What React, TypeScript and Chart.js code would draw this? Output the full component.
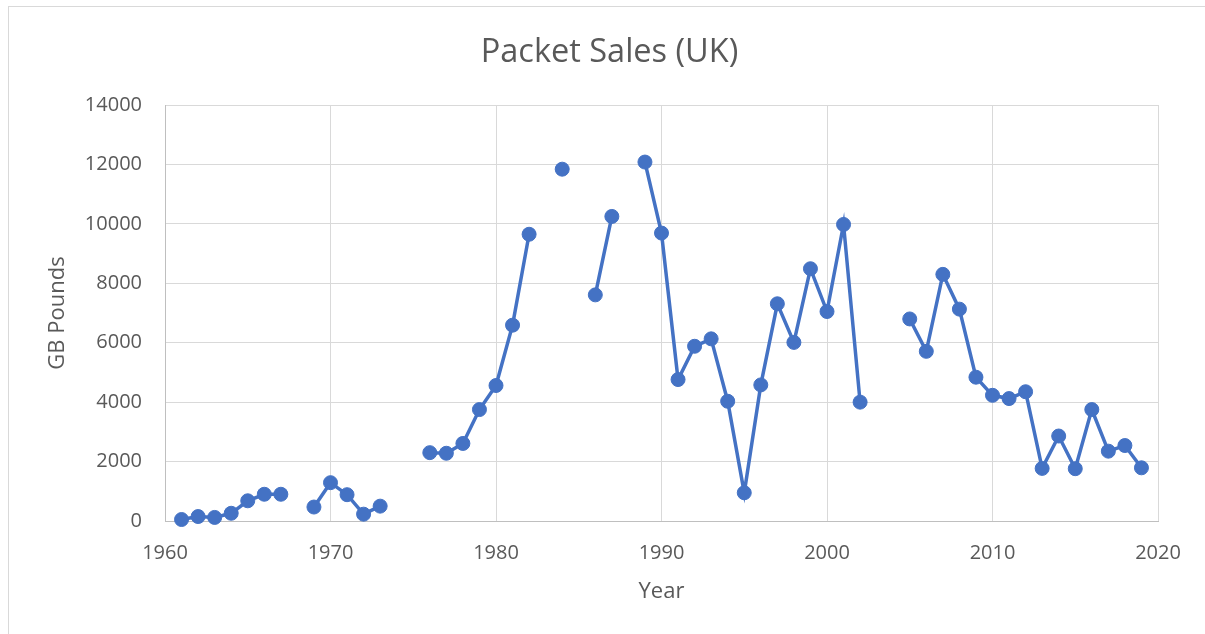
import React, { useEffect, useRef } from "react";
import { Chart, registerables } from "chart.js";

Chart.register(...registerables);

const years: number[] = [
  1961, 1962, 1963, 1964, 1965, 1966, 1967, 1968, 1969, 1970,
  1971, 1972, 1973, 1974, 1975, 1976, 1977, 1978, 1979, 1980,
  1981, 1982, 1983, 1984, 1985, 1986, 1987, 1988, 1989, 1990,
  1991, 1992, 1993, 1994, 1995, 1996, 1997, 1998, 1999, 2000,
  2001, 2002, 2003, 2004, 2005, 2006, 2007, 2008, 2009, 2010,
  2011, 2012, 2013, 2014, 2015, 2016, 2017, 2018, 2019,
];

const sales: (number | null)[] = [
  50, 150, 120, 260, 680, 900, 900, null, 470, 1290,
  885, 230, 500, null, null, 2300, 2280, 2610, 3750, 4560,
  6590, 9650, null, 11840, null, 7610, 10250, null, 12080, 9690,
  4760, 5880, 6130, 4030, 950, 4580, 7310, 6010, 8490, 7050,
  9980, 4000, null, null, 6800, 5710, 8300, 7130, 4840, 4230,
  4120, 4350, 1770, 2860, 1760, 3750, 2350, 2540, 1790,
];

const xTicks: number[] = [1960, 1970, 1980, 1990, 2000, 2010, 2020];
const yTicks: number[] = [0, 2000, 4000, 6000, 8000, 10000, 12000, 14000];

const TEXT = "#595959";
const BLUE = "#4472C4";
const FONT = "'Open Sans', sans-serif";

export default function App() {
  const ref = useRef<HTMLCanvasElement | null>(null);

  useEffect(() => {
    if (!ref.current) return;
    const points = years.map((y, i) => ({ x: y, y: sales[i] }));
    const chart = new Chart(ref.current, {
      type: "line",
      data: {
        datasets: [
          {
            label: "Packet Sales",
            data: points as any,
            borderColor: BLUE,
            backgroundColor: BLUE,
            borderWidth: 3.5,
            pointRadius: 7,
            pointHoverRadius: 7,
            pointBackgroundColor: BLUE,
            pointBorderColor: BLUE,
            pointBorderWidth: 1,
            spanGaps: false,
            tension: 0,
            clip: false as any,
          },
        ],
      },
      options: {
        responsive: false,
        animation: false,
        layout: { padding: { left: 61, right: 47, top: 0, bottom: 0 } },
        plugins: {
          legend: { display: false },
          tooltip: { enabled: false },
          title: {
            display: true,
            text: "Packet Sales (UK)",
            color: TEXT,
            font: { family: FONT, size: 32.5, weight: "normal" as any },
            padding: { top: 33, bottom: 33 },
          },
        },
        scales: {
          x: {
            type: "linear",
            min: xTicks[0],
            max: xTicks[xTicks.length - 1],
            afterBuildTicks: (scale: any) => {
              scale.ticks = xTicks.map((v) => ({ value: v }));
            },
            afterFit: (scale: any) => {
              scale.height = 113;
            },
            ticks: {
              color: TEXT,
              font: { family: FONT, size: 20 },
              padding: 20,
              maxRotation: 0,
              callback: (v: any) => String(v),
            },
            grid: { color: "#d9d9d9", lineWidth: 1, drawTicks: false },
            border: { color: "#bfbfbf", width: 1 },
            title: {
              display: true,
              text: "Year",
              color: TEXT,
              font: { family: FONT, size: 22 },
              padding: { top: 0, bottom: 29 },
            },
          },
          y: {
            type: "linear",
            min: yTicks[0],
            max: yTicks[yTicks.length - 1],
            afterBuildTicks: (scale: any) => {
              scale.ticks = yTicks.map((v) => ({ value: v }));
            },
            afterFit: (scale: any) => {
              scale.width = 104;
            },
            ticks: {
              color: TEXT,
              font: { family: FONT, size: 20 },
              padding: 23,
              callback: (v: any) => String(v),
            },
            grid: { color: "#d9d9d9", lineWidth: 1, drawTicks: false },
            border: { color: "#bfbfbf", width: 1 },
            title: {
              display: true,
              text: "GB Pounds",
              color: TEXT,
              font: { family: FONT, size: 22 },
              padding: { top: -16, bottom: 0 },
            },
          },
        },
      },
    });
    return () => chart.destroy();
  }, []);

  return (
    <div
      style={{
        position: "fixed",
        left: 0,
        top: 0,
        width: 1205,
        height: 634,
        overflow: "hidden",
        background: "#ffffff",
      }}
    >
      <div
        style={{
          position: "absolute",
          left: 8,
          top: 6,
          width: 1205,
          height: 640,
          borderLeft: "1px solid #d9d9d9",
          borderTop: "1px solid #d9d9d9",
        }}
      />
      <canvas
        ref={ref}
        width={1205}
        height={634}
        style={{ position: "absolute", left: 0, top: 0, width: 1205, height: 634 }}
      />
    </div>
  );
}
